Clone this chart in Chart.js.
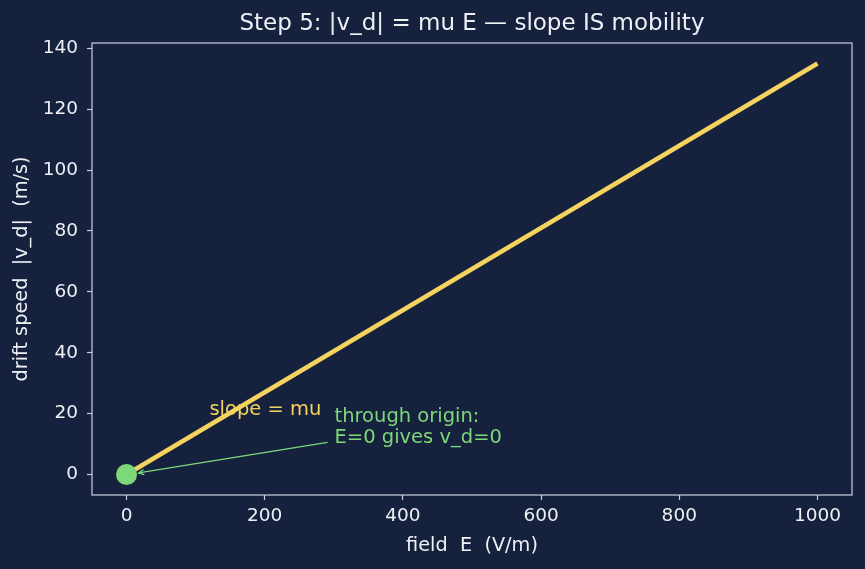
<!DOCTYPE html>
<html>
<head>
<meta charset="utf-8">
<script src="https://cdn.jsdelivr.net/npm/chart.js@4.4.1/dist/chart.umd.min.js"></script>
<style>
  html, body { margin: 0; padding: 0; background: #16213e; }
  #wrap { width: 865px; height: 569px; }
</style>
</head>
<body>
<div id="wrap"><canvas id="chart" width="865" height="569"></canvas></div>
<script>
// data
const fieldE = [0, 1000];
const driftSpeed = [0, 135];
const originPoint = [0, 0];
const xTicks = [0, 200, 400, 600, 800, 1000];
const yTicks = [0, 20, 40, 60, 80, 100, 120, 140];

const BG = '#16213e';
const FG = '#eef0f5';
const SPINE = '#c9cfdf';
const YELLOW = '#f4d35e';
const GREEN = '#7dd87a';
const FONT = "'DejaVu Sans', sans-serif";

// frame, title and annotations in matplotlib style
const decor = {
    id: 'decor',
    beforeDraw(chart) {
        const ctx = chart.ctx;
        ctx.save();
        ctx.fillStyle = BG;
        ctx.fillRect(0, 0, chart.width, chart.height);
        ctx.restore();
    },
    afterDatasetsDraw(chart) {
        const ctx = chart.ctx;
        const a = chart.chartArea;
        const xs = chart.scales.x, ys = chart.scales.y;
        ctx.save();

        // annotations
        ctx.font = '19.5px ' + FONT;
        ctx.textBaseline = 'alphabetic';
        ctx.fillStyle = YELLOW;
        ctx.fillText('slope = mu', xs.getPixelForValue(120), ys.getPixelForValue(19.5));

        const tx = xs.getPixelForValue(301), ty = ys.getPixelForValue(15.5);
        ctx.fillStyle = GREEN;
        ctx.textBaseline = 'middle';
        ctx.fillText('through origin:', tx, ty - 10);
        ctx.fillText('E=0 gives v_d=0', tx, ty + 11);

        // arrow from text to origin point
        const x0 = tx - 7, y0 = ty + 15;
        const x1 = xs.getPixelForValue(0) + 12, y1 = ys.getPixelForValue(0) - 1.5;
        ctx.strokeStyle = GREEN;
        ctx.lineWidth = 1.3;
        ctx.beginPath();
        ctx.moveTo(x0, y0);
        ctx.lineTo(x1, y1);
        ctx.stroke();
        const ang = Math.atan2(y1 - y0, x1 - x0);
        ctx.beginPath();
        ctx.moveTo(x1 - 6 * Math.cos(ang - 0.45), y1 - 6 * Math.sin(ang - 0.45));
        ctx.lineTo(x1, y1);
        ctx.lineTo(x1 - 6 * Math.cos(ang + 0.45), y1 - 6 * Math.sin(ang + 0.45));
        ctx.stroke();

        // full box
        ctx.strokeStyle = SPINE;
        ctx.lineWidth = 1.2;
        ctx.strokeRect(a.left, a.top, a.right - a.left, a.bottom - a.top);

        // title centred over the axes
        ctx.fillStyle = FG;
        ctx.font = '23px ' + FONT;
        ctx.textAlign = 'center';
        ctx.textBaseline = 'middle';
        ctx.fillText('Step 5: |v_d| = mu E \u2014 slope IS mobility', (a.left + a.right) / 2, 24);
        ctx.restore();
    }
};

new Chart(document.getElementById('chart'), {
    type: 'scatter',
    data: {
        datasets: [
            {
                label: 'v_d = mu E',
                data: fieldE.map((e, i) => ({ x: e, y: driftSpeed[i] })),
                showLine: true,
                borderColor: YELLOW,
                borderWidth: 4.5,
                pointRadius: 0,
                order: 2
            },
            {
                label: 'origin',
                data: [{ x: originPoint[0], y: originPoint[1] }],
                backgroundColor: GREEN,
                borderColor: GREEN,
                borderWidth: 0,
                pointRadius: 10.5,
                order: 1
            }
        ]
    },
    options: {
        responsive: false,
        animation: false,
        layout: { padding: { top: 43, right: 13, left: 0, bottom: 0 } },
        plugins: {
            legend: { display: false },
            tooltip: { enabled: false }
        },
        scales: {
            x: {
                type: 'linear',
                min: -50,
                max: 1050,
                afterBuildTicks: s => { s.ticks = xTicks.map(v => ({ value: v })); },
                afterFit: s => { s.height = 74; },
                border: { display: false },
                grid: { drawOnChartArea: false, color: SPINE, tickLength: 5, tickWidth: 1.2 },
                ticks: { color: FG, font: { family: FONT, size: 18.5 }, padding: 5, maxRotation: 0, callback: v => String(v) },
                title: { display: true, text: 'field  E  (V/m)', color: FG, font: { family: FONT, size: 19.3 }, padding: { top: 0, bottom: 11 } }
            },
            y: {
                type: 'linear',
                min: -6.75,
                max: 141.75,
                afterBuildTicks: s => { s.ticks = yTicks.map(v => ({ value: v })); },
                afterFit: s => { s.width = 92; },
                border: { display: false },
                grid: { drawOnChartArea: false, color: SPINE, tickLength: 5, tickWidth: 1.2 },
                ticks: { color: FG, font: { family: FONT, size: 18.5 }, padding: 9, callback: v => String(v) },
                title: { display: true, text: 'drift speed  |v_d|  (m/s)', color: FG, font: { family: FONT, size: 19.3 }, padding: { top: 10, bottom: 0 } }
            }
        }
    },
    plugins: [decor]
});
</script>
</body>
</html>
